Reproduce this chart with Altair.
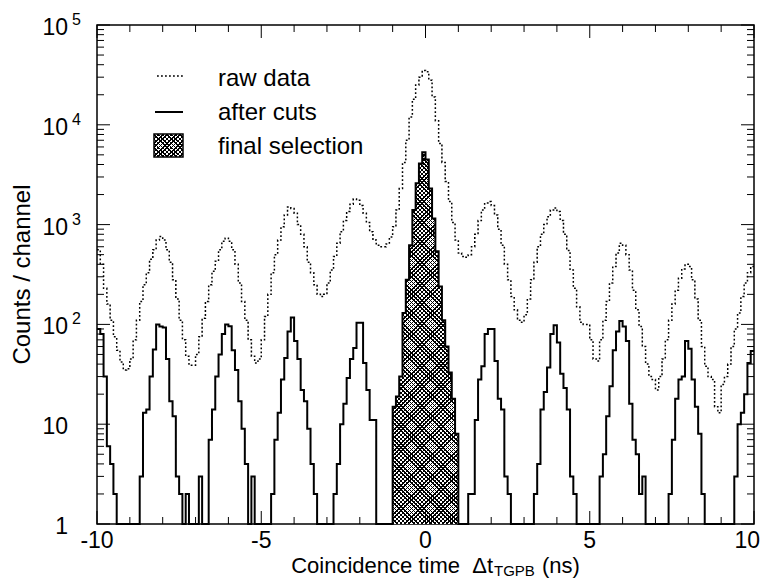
import altair as alt
import numpy as np
import pandas as pd

# ---------------- data ----------------
T_START = -10.0
BIN_WIDTH = 0.1

# raw data (dotted), counts per 0.1 ns channel, from -10.0 to 9.9 ns
raw_data = [
    560, 400, 230, 160, 110, 75, 55, 42, 35, 36,
    45, 70, 110, 170, 250, 330, 450, 560, 700, 760,
    700, 560, 420, 280, 180, 110, 70, 48, 39, 39,
    50, 75, 115, 170, 250, 340, 430, 560, 680, 730,
    680, 560, 400, 260, 170, 110, 70, 48, 41, 45,
    70, 120, 200, 330, 500, 700, 950, 1250, 1500, 1450,
    1300, 1000, 800, 600, 420, 330, 250, 200, 190, 200,
    260, 350, 480, 650, 850, 1100, 1350, 1600, 1800, 1750,
    1550, 1300, 1050, 850, 700, 620, 600, 600, 640, 750,
    950, 1400, 2300, 4200, 7000, 12000, 18000, 25000, 30000, 35000,
    34000, 28000, 19000, 11000, 6500, 4200, 2700, 1700, 1050, 700,
    520, 480, 470, 500, 600, 800, 1100, 1400, 1650, 1700,
    1550, 1250, 900, 620, 400, 280, 190, 140, 110, 105,
    125, 180, 280, 420, 600, 800, 1000, 1200, 1400, 1470,
    1350, 1100, 800, 550, 350, 230, 150, 105, 100, 100,
    70, 45, 43, 70, 110, 170, 260, 380, 520, 650,
    620, 500, 350, 220, 140, 95, 60, 40, 30, 28,
    22, 30, 45, 70, 110, 160, 220, 290, 360, 400,
    380, 280, 180, 110, 60, 38, 30, 28, 15, 13,
    25, 30, 40, 60, 90, 130, 190, 260, 330, 380,
]

# after cuts (solid), same channels
after_cuts = [
    90, 80, 30, 6, 4, 2, 0, 0, 0, 0,
    0, 0, 0, 3, 13, 14, 30, 56, 100, 95,
    93, 45, 17, 12, 3, 2, 0, 2, 0, 0,
    0, 3, 0, 0, 7, 14, 30, 50, 80, 100,
    96, 55, 35, 17, 9, 4, 0, 3, 0, 0,
    0, 0, 0, 2, 7, 13, 28, 46, 85, 117,
    68, 45, 22, 17, 9, 4, 2, 0, 0, 0,
    0, 0, 2, 4, 10, 16, 29, 45, 58, 104,
    104, 41, 22, 11, 11, 0, 0, 0, 0, 0,
    15, 19, 30, 130, 280, 620, 1400, 2600, 4100, 5300,
    4500, 2300, 1150, 540, 240, 110, 60, 33, 18, 8,
    0, 0, 0, 2, 2, 11, 28, 38, 80, 90,
    90, 43, 18, 14, 3, 2, 0, 0, 0, 0,
    0, 0, 0, 2, 4, 14, 21, 37, 80, 98,
    66, 32, 23, 14, 3, 2, 0, 0, 0, 0,
    0, 0, 0, 3, 5, 12, 24, 55, 85, 108,
    95, 68, 16, 7, 5, 2, 3, 0, 0, 0,
    0, 0, 0, 0, 2, 7, 18, 28, 30, 68,
    57, 28, 15, 8, 2, 0, 0, 0, 0, 0,
    0, 0, 0, 0, 3, 10, 13, 20, 41, 54,
]

# final selection window (ns)
SEL_LO, SEL_HI = -1.0, 1.0

legend_labels = ["raw data", "after cuts", "final selection"]
x_title_main = "Coincidence time\u00a0\u00a0\u0394t"
x_title_sub = "TGPB"
x_title_unit = "(ns)"
y_title = "Counts / channel"

x_major = [-10, -5, 0, 5, 10]
x_minor = [-9, -8, -7, -6, -4, -3, -2, -1, 1, 2, 3, 4, 6, 7, 8, 9]
x_tick_labels = ["-10", "-5", "0", "5", "10"]
y_major = [1, 10, 100, 1000, 10000, 100000]
y_label_base = ["1", "10", "10", "10", "10", "10"]
y_label_exp = ["", "", "2", "3", "4", "5"]
y_minor = [m * 10 ** k for k in range(5) for m in range(2, 10)]

# ---------------- layout / style ----------------
W, H = 657, 499
FONT = "Liberation Sans"
INK = "black"

n = len(raw_data)
edges = np.round(T_START + BIN_WIDTH * np.arange(n), 1)
t_end = round(T_START + BIN_WIDTH * n, 1)


def step_frame(ts, vals, end):
    t = list(ts) + [end]
    v = list(vals) + [vals[-1]]
    return pd.DataFrame({"t": t, "v": np.maximum(np.array(v, dtype=float), 1.0)})


df_raw = step_frame(edges, raw_data, t_end)
df_cut = step_frame(edges, after_cuts, t_end)
sel_idx = [i for i, t in enumerate(edges) if SEL_LO - 1e-9 <= t < SEL_HI - 1e-9]
sel_t = [edges[i] for i in sel_idx]
sel_v = [after_cuts[i] for i in sel_idx]
df_sel = step_frame(sel_t, sel_v, SEL_HI)

xs = alt.Scale(domain=[-10, 10], nice=False, zero=False)
ys = alt.Scale(type="log", domain=[1, 100000], nice=False)
X = alt.X("t:Q", scale=xs, axis=None)
Y = alt.Y("v:Q", scale=ys, axis=None)


def hatch(w, h, period, frac, back, flip):
    s = (w + h) / (w * w + h * h)
    k_n = max(1, int(round((w + h) / period)))
    stops = []
    for k in range(k_n):
        a = k / k_n
        b = (k + frac) / k_n
        c = (k + 1) / k_n
        stops += [
            {"offset": a, "color": INK},
            {"offset": b, "color": INK},
            {"offset": b, "color": back},
            {"offset": c, "color": back},
        ]
    if flip:
        x1, y1, x2, y2 = 0.0, 1.0, w * s, 1.0 - h * s
    else:
        x1, y1, x2, y2 = 0.0, 0.0, w * s, h * s
    return {"gradient": "linear", "x1": x1, "y1": y1, "x2": x2, "y2": y2, "stops": stops}


PERIOD, FRAC = 4.2, 0.36
sel_w = W * (SEL_HI - SEL_LO) / 20.0
sel_h = H * np.log10(max(sel_v)) / 5.0
gradA = hatch(sel_w, sel_h, PERIOD, FRAC, "white", False)
gradB = hatch(sel_w, sel_h, PERIOD, FRAC, "rgba(255,255,255,0)", True)
LB = (57, 86, 109, 132)  # legend box x, x2, y, y2
lgA = hatch(LB[1] - LB[0], LB[3] - LB[2], PERIOD, FRAC, "white", False)
lgB = hatch(LB[1] - LB[0], LB[3] - LB[2], PERIOD, FRAC, "rgba(255,255,255,0)", True)

DOT = [1.8, 2.2]

raw_line = alt.Chart(df_raw).mark_line(
    interpolate="step-after", color=INK, strokeWidth=1.5, strokeDash=DOT, clip=True
).encode(x=X, y=Y)

sel_a = alt.Chart(df_sel).mark_area(interpolate="step-after", fill=gradA).encode(
    x=X, y=Y, y2=alt.datum(1)
)
sel_b = alt.Chart(df_sel).mark_area(interpolate="step-after", fill=gradB).encode(
    x=X, y=Y, y2=alt.datum(1)
)

cut_line = alt.Chart(df_cut).mark_line(
    interpolate="step-after", color=INK, strokeWidth=2
).encode(x=X, y=Y)

# ticks (ROOT style, inward on all four sides)
df_xmaj = pd.DataFrame({"t": x_major})
df_xmin = pd.DataFrame({"t": x_minor})
df_ymaj = pd.DataFrame({"v": y_major})
df_ymin = pd.DataFrame({"v": y_minor})

tick_layers = []
for df, ln in ((df_xmaj, 13), (df_xmin, 7)):
    tick_layers.append(alt.Chart(df).mark_rule(color=INK, strokeWidth=1).encode(
        x=X, y=alt.value(H), y2=alt.value(H - ln)))
    tick_layers.append(alt.Chart(df).mark_rule(color=INK, strokeWidth=1).encode(
        x=X, y=alt.value(0), y2=alt.value(ln)))
for df, ln in ((df_ymaj, 13), (df_ymin, 7)):
    tick_layers.append(alt.Chart(df).mark_rule(color=INK, strokeWidth=1).encode(
        y=Y, x=alt.value(0), x2=alt.value(ln)))
    tick_layers.append(alt.Chart(df).mark_rule(color=INK, strokeWidth=1).encode(
        y=Y, x=alt.value(W), x2=alt.value(W - ln)))

# tick labels (the last one kept inside the page edge)
LAB_Y = H + 24
df_xlab = pd.DataFrame({"t": x_major, "label": x_tick_labels})
x_labels = alt.Chart(df_xlab.iloc[:-1]).mark_text(
    font=FONT, fontSize=23, align="center", baseline="alphabetic", color=INK
).encode(x=X, y=alt.value(LAB_Y), text="label:N")
x_label_last = alt.Chart(df_xlab.iloc[-1:]).mark_text(
    font=FONT, fontSize=23, align="right", baseline="alphabetic", dx=6, color=INK
).encode(x=X, y=alt.value(LAB_Y), text="label:N")

df_ylab = pd.DataFrame({"v": y_major, "base": y_label_base, "exp": y_label_exp})
y_base = alt.Chart(df_ylab).mark_text(
    font=FONT, fontSize=23, align="right", baseline="alphabetic", dy=10, color=INK
).encode(y=Y, x=alt.value(-29), text="base:N")
y_exp = alt.Chart(df_ylab[df_ylab["exp"] != ""]).mark_text(
    font=FONT, fontSize=16, align="left", baseline="alphabetic", color=INK
).encode(y=Y, x=alt.value(-25), text="exp:N")

dummy = pd.DataFrame({"k": [0]})

# axis titles
XA = 396
xt_main = alt.Chart(dummy).mark_text(
    text=x_title_main, font=FONT, fontSize=22, align="right", baseline="alphabetic", color=INK
).encode(x=alt.value(XA), y=alt.value(H + 49))
xt_sub = alt.Chart(dummy).mark_text(
    text=x_title_sub, font=FONT, fontSize=15, align="left", baseline="alphabetic", color=INK
).encode(x=alt.value(XA + 1), y=alt.value(H + 52))
xt_unit = alt.Chart(dummy).mark_text(
    text=x_title_unit, font=FONT, fontSize=22, align="left", baseline="alphabetic", color=INK
).encode(x=alt.value(XA + 49), y=alt.value(H + 49))
yt = alt.Chart(dummy).mark_text(
    text=y_title, font=FONT, fontSize=24, angle=270, align="center", baseline="alphabetic", color=INK
).encode(x=alt.value(-67), y=alt.value(H / 2))

# legend
leg_raw = alt.Chart(dummy).mark_rule(color=INK, strokeWidth=1.5, strokeDash=DOT).encode(
    x=alt.value(60), x2=alt.value(86), y=alt.value(51))
leg_cut = alt.Chart(dummy).mark_rule(color=INK, strokeWidth=2).encode(
    x=alt.value(58), x2=alt.value(86), y=alt.value(87))
leg_boxA = alt.Chart(dummy).mark_rect(fill=lgA, strokeWidth=0).encode(
    x=alt.value(LB[0]), x2=alt.value(LB[1]), y=alt.value(LB[2]), y2=alt.value(LB[3]))
leg_boxB = alt.Chart(dummy).mark_rect(fill=lgB, stroke=INK, strokeWidth=1.5).encode(
    x=alt.value(LB[0]), x2=alt.value(LB[1]), y=alt.value(LB[2]), y2=alt.value(LB[3]))
leg_texts = [
    alt.Chart(dummy).mark_text(
        text=lab, font=FONT, fontSize=24, align="left", baseline="alphabetic", color=INK
    ).encode(x=alt.value(121), y=alt.value(py))
    for lab, py in zip(legend_labels, (61, 95, 129))
]

chart = alt.layer(
    raw_line, sel_a, sel_b, cut_line, *tick_layers,
    x_labels, x_label_last, y_base, y_exp, xt_main, xt_sub, xt_unit, yt,
    leg_raw, leg_cut, leg_boxA, leg_boxB, *leg_texts,
).properties(
    width=W, height=H,
    autosize=alt.AutoSizeParams(type="none"),
    padding={"left": 89, "top": 17, "right": 7, "bottom": 55},
    background="white",
).configure(font=FONT).configure_view(stroke=INK, strokeWidth=1.5)

chart.save("out.html", embed_options={"renderer": "svg", "actions": False})
